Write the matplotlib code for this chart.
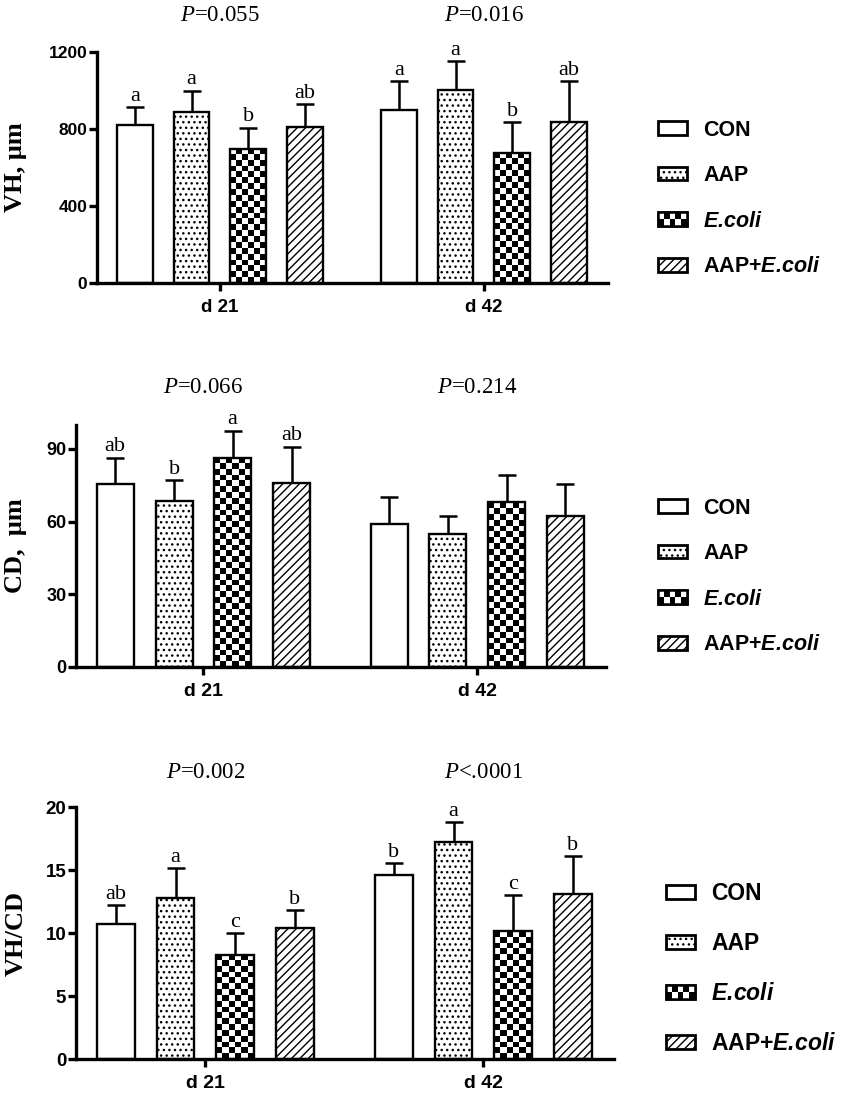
import numpy as np
import matplotlib
matplotlib.use("Agg")
import matplotlib.pyplot as plt
import matplotlib.transforms as mtransforms
from matplotlib.patches import Patch, Rectangle
from matplotlib.legend_handler import HandlerBase

# ---- data (rows = treatment, columns = day) ----
treatments = ["CON", "AAP", "E.coli", "AAP+E.coli"]
legend_labels = ["CON", "AAP", r"$\mathbfit{E.\!coli}$", r"AAP+$\mathbfit{E.\!coli}$"]
days = ["d 21", "d 42"]

vh_mean = [[818, 898], [889, 1001], [696, 676], [811, 837]]
vh_sd = [[94, 150], [109, 150], [110, 158], [118, 211]]
vh_letters = [["a", "a"], ["a", "a"], ["b", "b"], ["ab", "ab"]]
vh_p = [r"$\mathit{P}$=0.055", r"$\mathit{P}$=0.016"]

cd_mean = [[75.4, 59.0], [68.6, 54.9], [86.4, 68.2], [76.1, 62.2]]
cd_sd = [[11.0, 11.0], [8.6, 7.5], [11.2, 11.2], [14.9, 13.3]]
cd_letters = [["ab", ""], ["b", ""], ["a", ""], ["ab", ""]]
cd_p = [r"$\mathit{P}$=0.066", r"$\mathit{P}$=0.214"]

ratio_mean = [[10.70, 14.62], [12.77, 17.22], [8.29, 10.15], [10.39, 13.11]]
ratio_sd = [[1.54, 0.93], [2.38, 1.59], [1.72, 2.88], [1.45, 3.00]]
ratio_letters = [["ab", "b"], ["a", "a"], ["c", "c"], ["b", "b"]]
ratio_p = [r"$\mathit{P}$=0.002", r"$\mathit{P}$<.0001"]

plt.rcParams["font.family"] = ["Liberation Sans", "DejaVu Sans"]
plt.rcParams["font.weight"] = "bold"
plt.rcParams["mathtext.fontset"] = "custom"
plt.rcParams["mathtext.it"] = "Liberation Serif:style=italic:weight=normal"
plt.rcParams["mathtext.bfit"] = "Liberation Sans:style=italic:weight=bold"
plt.rcParams["mathtext.rm"] = "Liberation Sans:weight=bold"
plt.rcParams["hatch.linewidth"] = 1.0

W, H = 850, 1099
fig = plt.figure(figsize=(W / 100, H / 100), dpi=100)

offsets = [-0.322, -0.107, 0.107, 0.322]
bar_w = 0.135
hatches = [None, "...", None, "////"]


class CheckerHandler(HandlerBase):
    def create_artists(self, legend, orig_handle, xdescent, ydescent,
                       width, height, fontsize, trans):
        x0, y0 = -xdescent, -ydescent
        arts = [Rectangle((x0, y0), width, height, facecolor="black",
                          edgecolor="black", lw=1.8, transform=trans)]
        nx, ny = 5, 2
        w, h = width / nx, height / ny
        for i in range(nx):
            for j in range(ny):
                if (i + j) % 2 == 1:
                    arts.append(Rectangle((x0 + i * w, y0 + j * h), w, h,
                                          facecolor="white", lw=0, transform=trans))
        arts.append(Rectangle((x0, y0), width, height, facecolor="none",
                              edgecolor="black", lw=1.8, transform=trans))
        return arts


def draw_panel(box, means, sds, letters, pvals, ylabel, ylim, yticks,
               ytick_fs, xtick_fs, ylab_fs, leg_box, leg_fs, leg_pitch, p_y):
    x0, x1, ytop, ybot = box
    ax = fig.add_axes([x0 / W, 1 - ybot / H, (x1 - x0) / W, (ybot - ytop) / H])
    ax.set_xlim(-0.465, 1.47)
    ax.set_ylim(*ylim)
    groups = np.arange(len(days))

    for i in range(len(treatments)):
        x = groups + offsets[i]
        fc = "none" if i == 2 else "white"
        bars = ax.bar(x, means[i], bar_w, facecolor=fc, edgecolor="black",
                      linewidth=1.7, hatch=hatches[i], zorder=2)
        ax.errorbar(x, means[i], yerr=[np.zeros(len(x)), sds[i]], fmt="none",
                    ecolor="black", elinewidth=1.8, capsize=6.5, capthick=1.8,
                    zorder=1.5)
        if i == 2:
            # checkerboard fill clipped to each bar
            for b in bars:
                bb = b.get_window_extent()
                ncol = max(1, int(round(bb.width / 5.8)))
                nrow = max(1, int(round(bb.height / 5.8)))
                arr = np.indices((nrow, ncol)).sum(axis=0) % 2
                im = ax.imshow(arr, cmap="binary", origin="lower", aspect="auto",
                               interpolation="nearest", zorder=1.9,
                               extent=(b.get_x(), b.get_x() + b.get_width(),
                                       0, b.get_height()))
                im.set_clip_path(b)
        for j, xx in enumerate(x):
            if letters[i][j]:
                ax.annotate(letters[i][j], (xx, means[i][j] + sds[i][j]),
                            xytext=(0, 4.5), textcoords="offset points",
                            ha="center", va="baseline", fontsize=16,
                            family="Liberation Serif", fontweight="normal")

    ax.set_xlim(-0.465, 1.47)
    ax.set_ylim(*ylim)
    ax.set_yticks(yticks)
    ax.set_xticks(groups, days)
    for s in ["top", "right"]:
        ax.spines[s].set_visible(False)
    for s in ["left", "bottom"]:
        ax.spines[s].set_linewidth(2.4)
    ax.tick_params(axis="y", length=5.5, width=2.4, labelsize=ytick_fs, pad=1.5)
    ax.tick_params(axis="x", length=5.5, width=2.4, labelsize=xtick_fs, pad=6)

    trans = mtransforms.blended_transform_factory(ax.transData, ax.transAxes)
    for g, p in zip(groups, pvals):
        ax.text(g, p_y, p, transform=trans, ha="center", va="center",
                fontsize=16.5, family="Liberation Serif", fontweight="normal")

    fig.text(16 / W, 1 - (ytop + ybot) / 2 / H, ylabel, rotation=90,
             ha="center", va="center", family="Liberation Serif",
             fontweight="bold", fontsize=ylab_fs)

    checker = Patch(facecolor="black", edgecolor="black")
    handles = [Patch(facecolor="white", edgecolor="black", linewidth=2),
               Patch(facecolor="white", edgecolor="black", linewidth=2, hatch="..."),
               checker,
               Patch(facecolor="white", edgecolor="black", linewidth=2, hatch="////")]
    fs_px = leg_fs * 100 / 72
    lx, ly = leg_box
    fig.legend(handles, legend_labels, loc="center left",
               bbox_to_anchor=(lx / W, 1 - ly / H), frameon=False,
               borderpad=0, borderaxespad=0,
               handlelength=29 / fs_px, handleheight=13 / fs_px,
               handletextpad=16 / fs_px,
               labelspacing=(leg_pitch - 0.9 * fs_px) / fs_px,
               prop=dict(family="Liberation Sans", weight="bold", size=leg_fs),
               handler_map={checker: CheckerHandler()})
    return ax


draw_panel((97, 608, 51.7, 283.3), vh_mean, vh_sd, vh_letters, vh_p,
           "VH, μm", (0, 1200), [0, 400, 800, 1200],
           12.5, 13.5, 19, (658, 198.5), 15.5, 44, 1.157)
draw_panel((76, 606, 424.8, 666.7), cd_mean, cd_sd, cd_letters, cd_p,
           "CD,  μm", (0, 100), [0, 30, 60, 90],
           13, 14, 19, (658, 576.5), 15.5, 44, 1.156)
draw_panel((76, 614, 807.3, 1059), ratio_mean, ratio_sd, ratio_letters, ratio_p,
           "VH/CD", (0, 20), [0, 5, 10, 15, 20],
           13.5, 14, 19, (666, 968.5), 16.5, 47.5, 1.14)

fig.savefig("out.png", dpi=100)
